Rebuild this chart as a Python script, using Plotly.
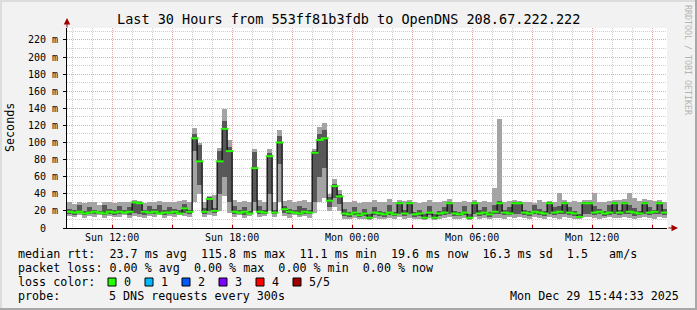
import plotly.graph_objects as go
import pandas as pd

NBSP = "\u00a0"

# ---------------- data ----------------
start_time = "2025-12-28 09:45"          # Sunday
range_start = "2025-12-28 09:44:33"
range_end = "2025-12-29 15:44:33"
bin_minutes = 15

median_ms = [
    19, 18, 19, 17, 18, 19, 18, 17, 19, 18,
    19, 18, 19, 30, 29, 19, 18, 19, 17, 18,
    18, 19, 17, 23, 19, 105, 78, 19, 34, 20,
    78, 116, 90, 19, 18, 19, 17, 70, 19, 18,
    84, 18, 100, 22, 19, 18, 17, 19, 18, 88,
    103, 105, 32, 49, 37, 17, 16, 18, 15, 17,
    12, 18, 17, 16, 18, 16, 29, 17, 29, 16,
    17, 12, 18, 12, 17, 18, 29, 17, 16, 18,
    12, 29, 17, 18, 16, 19, 29, 18, 17, 29,
    29, 18, 17, 19, 18, 17, 29, 18, 19, 29,
    18, 17, 13, 29, 29, 18, 19, 17, 18, 29,
    18, 29, 19, 18, 17, 29, 18, 19, 29, 18,
]
smoke_min_ms = [
    14, 13, 15, 12, 14, 13, 15, 12, 14, 13,
    13, 15, 12, 14, 13, 12, 14, 13, 15, 12,
    14, 13, 15, 14, 13, 30, 40, 13, 15, 14,
    20, 38, 18, 13, 15, 12, 14, 20, 13, 14,
    20, 13, 30, 14, 12, 15, 13, 14, 12, 17,
    30, 35, 20, 25, 20, 11, 10, 12, 10, 11,
    9, 12, 11, 10, 12, 11, 13, 10, 12, 10,
    11, 9, 12, 9, 11, 12, 13, 10, 11, 12,
    9, 13, 11, 12, 10, 12, 12, 11, 13, 12,
    13, 12, 11, 13, 12, 11, 13, 12, 11, 13,
    12, 11, 10, 13, 13, 12, 11, 12, 13, 12,
    12, 13, 12, 11, 12, 13, 12, 11, 13, 12,
]
smoke_lo_ms = [
    16, 15, 17, 15, 16, 16, 17, 15, 16, 15,
    16, 17, 15, 17, 16, 15, 16, 16, 17, 15,
    16, 16, 16, 18, 16, 90, 50, 16, 20, 17,
    40, 60, 30, 16, 17, 15, 16, 30, 16, 16,
    40, 16, 75, 17, 16, 17, 15, 16, 16, 30,
    60, 70, 25, 35, 28, 14, 13, 15, 13, 14,
    11, 15, 14, 13, 15, 14, 16, 14, 16, 13,
    14, 11, 15, 11, 14, 15, 16, 14, 14, 15,
    11, 16, 14, 15, 13, 16, 16, 15, 15, 16,
    16, 15, 14, 16, 15, 14, 16, 15, 16, 16,
    15, 14, 12, 16, 16, 15, 16, 14, 15, 16,
    15, 16, 16, 14, 15, 16, 15, 16, 16, 15,
]
smoke_hi_ms = [
    22, 21, 27, 20, 24, 21, 20, 27, 22, 21,
    26, 21, 24, 31, 30, 21, 26, 22, 27, 21,
    24, 22, 21, 28, 21, 110, 97, 23, 36, 23,
    90, 125, 95, 26, 21, 24, 20, 89, 26, 21,
    88, 21, 108, 26, 22, 21, 26, 23, 21, 90,
    110, 115, 36, 52, 40, 22, 19, 24, 18, 22,
    16, 25, 20, 19, 27, 19, 31, 21, 31, 19,
    21, 16, 26, 16, 20, 24, 31, 20, 19, 26,
    16, 31, 21, 25, 19, 27, 32, 21, 24, 31,
    31, 21, 20, 27, 22, 20, 31, 24, 26, 31,
    24, 20, 16, 31, 31, 26, 22, 20, 27, 31,
    21, 31, 27, 23, 20, 31, 25, 21, 31, 22,
]
smoke_max_ms = [
    30, 28, 31, 29, 31, 30, 27, 31, 30, 29,
    31, 30, 31, 33, 32, 29, 31, 30, 32, 30,
    31, 30, 32, 33, 30, 117, 100, 31, 38, 39,
    94, 139, 103, 33, 31, 32, 30, 92, 33, 31,
    92, 31, 115, 32, 33, 31, 32, 33, 31, 92,
    118, 123, 40, 57, 45, 31, 30, 32, 29, 31,
    30, 33, 31, 30, 34, 31, 33, 32, 33, 31,
    29, 31, 33, 30, 31, 32, 34, 30, 31, 32,
    30, 33, 31, 32, 30, 47, 127, 31, 32, 33,
    32, 30, 31, 29, 33, 31, 32, 30, 41, 33,
    31, 32, 30, 33, 33, 41, 31, 30, 32, 33,
    33, 34, 41, 35, 32, 34, 33, 32, 33, 30,
]

x_tick_times = [
    "2025-12-28 12:00", "2025-12-28 15:00", "2025-12-28 18:00", "2025-12-28 21:00",
    "2025-12-29 00:00", "2025-12-29 03:00", "2025-12-29 06:00", "2025-12-29 09:00",
    "2025-12-29 12:00", "2025-12-29 15:00",
]
x_tick_labels = ["Sun 12:00", "", "Sun 18:00", "", "Mon 00:00", "", "Mon 06:00", "", "Mon 12:00", ""]
y_tick_values = [0, 20, 40, 60, 80, 100, 120, 140, 160, 180, 200, 220]
y_tick_labels = ["0" + NBSP + NBSP] + [f"{v} m" for v in y_tick_values[1:]]
y_max = 234

title_text = "Last 30 Hours from 553ff81b3fdb to OpenDNS 208.67.222.222"
legend_rtt = "median rtt:  23.7 ms avg  115.8 ms max  11.1 ms min  19.6 ms now  16.3 ms sd  1.5   am/s"
legend_loss = "packet loss: 0.00 % avg  0.00 % max  0.00 % min  0.00 % now"
legend_color_label = "loss color:"
loss_colors = ["#26ff00", "#00b8ff", "#0059ff", "#7e00ff", "#ff0000", "#a10000"]
loss_labels = ["0", "1", "2", "3", "4", "5/5"]
probe_label = "probe:"
probe_text = "5 DNS requests every 300s"
date_text = "Mon Dec 29 15:44:33 2025"
watermark = "RRDTOOL / TOBI OETIKER"

# ---------------- geometry ----------------
W, H = 697, 310
L, R, T, B = 67, 30, 28, 82
PW, PH = W - L - R, H - T - B
MONO = "DejaVu Sans Mono"


def px_x(px):
    return (px - L) / PW


def px_y(py):
    return (H - B - py) / PH


def nb(s):
    return s.replace(" ", NBSP)


bin_starts = pd.date_range(start_time, periods=len(median_ms), freq=f"{bin_minutes}min")
centers = bin_starts + pd.Timedelta(minutes=bin_minutes / 2)
bin_width_ms = bin_minutes * 60 * 1000

fig = go.Figure()
fig.add_trace(go.Bar(
    x=centers, base=smoke_min_ms,
    y=[hi - lo for lo, hi in zip(smoke_min_ms, smoke_max_ms)],
    width=bin_width_ms, marker=dict(color="#a4a4a4", line=dict(width=0)),
    hoverinfo="skip", showlegend=False,
))
fig.add_trace(go.Bar(
    x=centers, base=smoke_lo_ms,
    y=[hi - lo for lo, hi in zip(smoke_lo_ms, smoke_hi_ms)],
    width=bin_width_ms, marker=dict(color="#585858", line=dict(width=0)),
    hoverinfo="skip", showlegend=False,
))
fig.add_trace(go.Scatter(
    x=centers, y=median_ms, mode="lines",
    line=dict(color="#111111", width=1.3, shape="hvh"),
    hoverinfo="skip", showlegend=False,
))
fig.add_trace(go.Scatter(
    x=centers, y=median_ms, mode="markers",
    marker=dict(symbol="line-ew", size=5.5, color=loss_colors[0],
                line=dict(color=loss_colors[0], width=2)),
    hoverinfo="skip", showlegend=False,
))

annotations = []
text_font = dict(family=MONO, size=11.7, color="#000000")

# title
annotations.append(dict(text=nb(title_text), xref="paper", yref="paper",
                        x=px_x(348.5), y=px_y(19), xanchor="center", yanchor="middle",
                        showarrow=False, font=dict(family=MONO, size=13.5, color="#000000")))
# y axis title
annotations.append(dict(text="Seconds", xref="paper", yref="paper",
                        x=px_x(10), y=px_y(128), xanchor="center", yanchor="middle",
                        textangle=-90, showarrow=False, font=text_font))
# watermark
annotations.append(dict(text=nb(watermark), xref="paper", yref="paper",
                        x=px_x(688), y=px_y(60), xanchor="center", yanchor="middle",
                        textangle=90, showarrow=False,
                        font=dict(family=MONO, size=8.3, color="#b4b4b4")))
# legend rows
row_y = [254, 268, 282, 296]
annotations.append(dict(text=nb(legend_rtt), xref="paper", yref="paper", x=px_x(16), y=px_y(row_y[0]),
                        xanchor="left", yanchor="middle", showarrow=False, font=text_font))
annotations.append(dict(text=nb(legend_loss), xref="paper", yref="paper", x=px_x(16), y=px_y(row_y[1]),
                        xanchor="left", yanchor="middle", showarrow=False, font=text_font))
annotations.append(dict(text=nb(legend_color_label), xref="paper", yref="paper", x=px_x(16), y=px_y(row_y[2]),
                        xanchor="left", yanchor="middle", showarrow=False, font=text_font))
annotations.append(dict(text=nb(probe_label), xref="paper", yref="paper", x=px_x(16), y=px_y(row_y[3]),
                        xanchor="left", yanchor="middle", showarrow=False, font=text_font))
annotations.append(dict(text=nb(probe_text), xref="paper", yref="paper", x=px_x(107), y=px_y(row_y[3]),
                        xanchor="left", yanchor="middle", showarrow=False, font=text_font))
annotations.append(dict(text=nb(date_text), xref="paper", yref="paper", x=px_x(681), y=px_y(row_y[3]),
                        xanchor="right", yanchor="middle", showarrow=False, font=text_font))

shapes = []
for k, (col, lab) in enumerate(zip(loss_colors, loss_labels)):
    sx = 108 + 37 * k
    shapes.append(dict(type="rect", xref="paper", yref="paper",
                       x0=px_x(sx), x1=px_x(sx + 8), y0=px_y(row_y[2] + 4), y1=px_y(row_y[2] - 4),
                       fillcolor=col, line=dict(color="#000000", width=1)))
    annotations.append(dict(text=lab, xref="paper", yref="paper", x=px_x(sx + 14), y=px_y(row_y[2]),
                            xanchor="left", yanchor="middle", showarrow=False, font=text_font))

# axis arrows
annotations.append(dict(text="", xref="paper", yref="paper", x=px_x(678), y=0,
                        ax=-11, ay=0, showarrow=True, arrowhead=2, arrowsize=1.3,
                        arrowwidth=1, arrowcolor="#a00000"))
annotations.append(dict(text="", xref="paper", yref="paper", x=0, y=px_y(18),
                        ax=0, ay=11, showarrow=True, arrowhead=2, arrowsize=1.3,
                        arrowwidth=1, arrowcolor="#a00000"))

# frame (3D border like rrdtool)
shapes += [
    dict(type="rect", xref="paper", yref="paper", x0=px_x(0), x1=px_x(W), y0=px_y(2), y1=px_y(0),
         fillcolor="#dcdcdc", line=dict(width=0), layer="below"),
    dict(type="rect", xref="paper", yref="paper", x0=px_x(0), x1=px_x(2), y0=px_y(H), y1=px_y(0),
         fillcolor="#dcdcdc", line=dict(width=0), layer="below"),
    dict(type="rect", xref="paper", yref="paper", x0=px_x(W - 2), x1=px_x(W), y0=px_y(H), y1=px_y(0),
         fillcolor="#a8a8a8", line=dict(width=0), layer="below"),
    dict(type="rect", xref="paper", yref="paper", x0=px_x(0), x1=px_x(W), y0=px_y(H), y1=px_y(H - 2),
         fillcolor="#a8a8a8", line=dict(width=0), layer="below"),
]

major_grid = "rgb(238,168,168)"
minor_grid = "rgb(205,205,205)"

fig.update_layout(
    template="none",
    width=W, height=H, autosize=False,
    margin=dict(l=L, r=R, t=T, b=B, pad=0),
    paper_bgcolor="#f2f2f2", plot_bgcolor="#ffffff",
    barmode="overlay", bargap=0,
    showlegend=False,
    font=dict(family=MONO, color="#000000"),
    annotations=annotations, shapes=shapes,
    xaxis=dict(
        type="date", range=[range_start, range_end], automargin=False,
        tickmode="array", tickvals=x_tick_times, ticktext=x_tick_labels,
        tickfont=dict(family=MONO, size=10, color="#000000"),
        ticks="inside", ticklen=3, tickcolor="#c00000", tickwidth=1,
        showgrid=True, gridcolor=major_grid, griddash="1px,1px", gridwidth=1,
        minor=dict(dtick=3600000, tick0="2025-12-28 00:00", showgrid=True,
                   gridcolor=minor_grid, griddash="1px,1px", gridwidth=1),
        showline=True, linecolor="#000000", linewidth=1,
        zeroline=False, fixedrange=True,
    ),
    yaxis=dict(
        range=[0, y_max], automargin=False,
        tickmode="array", tickvals=y_tick_values, ticktext=y_tick_labels,
        tickfont=dict(family=MONO, size=10, color="#000000"),
        ticks="outside", ticklen=3, tickcolor="#000000", tickwidth=1,
        ticklabelstandoff=3,
        showgrid=True, gridcolor=major_grid, griddash="1px,1px", gridwidth=1,
        minor=dict(dtick=10, tick0=0, showgrid=True,
                   gridcolor=minor_grid, griddash="1px,1px", gridwidth=1),
        showline=True, linecolor="#000000", linewidth=1,
        zeroline=False, fixedrange=True,
    ),
)

fig.write_html("out.html")
